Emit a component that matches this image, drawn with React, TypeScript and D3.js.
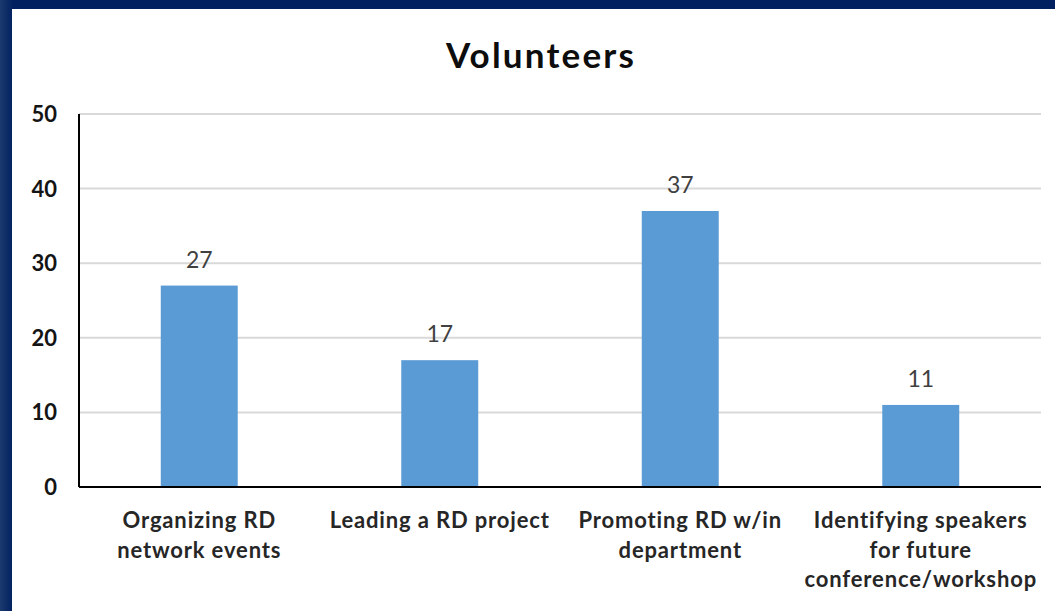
import React from "react";
import * as d3 from "d3";

const categories = [
  "Organizing RD network events",
  "Leading a RD project",
  "Promoting RD w/in department",
  "Identifying speakers for future conference/workshop",
];
const categoryLines = [
  ["Organizing RD", "network events"],
  ["Leading a RD project"],
  ["Promoting RD w/in", "department"],
  ["Identifying speakers", "for future", "conference/workshop"],
];
const values = [27, 17, 37, 11];
const yTicks = [0, 10, 20, 30, 40, 50];
const title = "Volunteers";

const W = 1055;
const H = 611;
const margin = { left: 79, right: 14, top: 114, bottom: 124 };
const font = "Lato, 'Open Sans', 'Noto Sans', sans-serif";

export default function App() {
  const x = d3
    .scaleBand<string>()
    .domain(categories)
    .range([margin.left, W - margin.right])
    .paddingInner(0.68)
    .paddingOuter(0.34);
  const y = d3.scaleLinear().domain([0, 50]).range([H - margin.bottom, margin.top]);

  return (
    <div style={{ position: "fixed", left: 0, top: 0, width: W, height: H }}>
      <svg width={W} height={H} style={{ display: "block" }}>
        <defs>
          <linearGradient id="bg" x1="0" x2="1" y1="0" y2="0">
            <stop offset="0" stopColor="#1b3a6e" />
            <stop offset="1" stopColor="#002060" />
          </linearGradient>
        </defs>
        <rect x={0} y={0} width={W} height={H} fill="#002060" />
        <rect x={0} y={0} width={13} height={H} fill="url(#bg)" />
        <rect x={12} y={9} width={W - 12} height={H - 9} fill="#ffffff" />
        <text
          x={541}
          y={68}
          textAnchor="middle"
          fontFamily={font}
          fontWeight="bold"
          fontSize={35}
          letterSpacing={2.2}
          fill="#0d0d0d"
        >
          {title}
        </text>
        {yTicks.map((t) => (
          <g key={t}>
            {t > 0 && (
              <line
                x1={margin.left}
                x2={W - margin.right}
                y1={y(t)}
                y2={y(t)}
                stroke="#d9d9d9"
                strokeWidth={2}
              />
            )}
            <text
              x={57}
              y={y(t) + 8}
              textAnchor="end"
              fontFamily={font}
              fontWeight="bold"
              fontSize={22}
              fill="#141414"
            >
              {t}
            </text>
          </g>
        ))}
        {categories.map((c, i) => (
          <g key={c}>
            <rect
              x={x(c)}
              y={y(values[i])}
              width={x.bandwidth()}
              height={y(0) - y(values[i])}
              fill="#5b9bd5"
            />
            <text
              x={(x(c) as number) + x.bandwidth() / 2}
              y={y(values[i]) - 18}
              textAnchor="middle"
              fontFamily={font}
              fontSize={23}
              fill="#404040"
            >
              {values[i]}
            </text>
            {categoryLines[i].map((ln, j) => (
              <text
                key={j}
                x={(x(c) as number) + x.bandwidth() / 2}
                y={528 + j * 29.5}
                textAnchor="middle"
                fontFamily={font}
                fontWeight="bold"
                fontSize={22}
                letterSpacing={0.85}
                fill="#262626"
              >
                {ln}
              </text>
            ))}
          </g>
        ))}
        <line
          x1={margin.left}
          x2={margin.left}
          y1={y(50)}
          y2={y(0)}
          stroke="#000"
          strokeWidth={2}
        />
        <line
          x1={margin.left}
          x2={W - margin.right}
          y1={y(0)}
          y2={y(0)}
          stroke="#000"
          strokeWidth={2}
        />
      </svg>
    </div>
  );
}
